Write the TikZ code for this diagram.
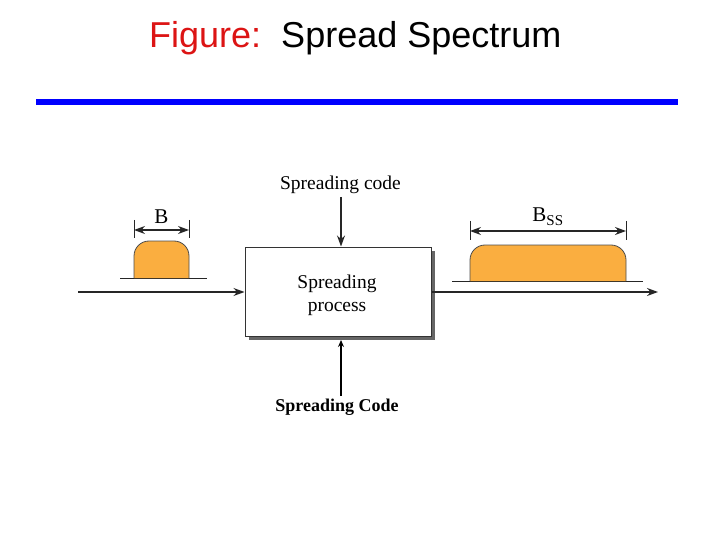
\documentclass[tikz,border=0pt]{standalone}
\usepackage{fontspec}
\setmainfont{Liberation Serif}
\newfontfamily\titlefont{Liberation Sans}
\usetikzlibrary{arrows.meta}
\definecolor{pulse}{RGB}{250,174,64}
\definecolor{titlered}{RGB}{220,20,20}
\tikzset{
  conn/.style={draw=black!85, line width=1.1pt, -{Stealth[length=11pt,width=8pt]}},
  dimarrow/.style={draw=black!85, line width=1.1pt, {Stealth[length=11pt,width=8pt]}-{Stealth[length=11pt,width=8pt]}},
  tick/.style={draw=black!85, line width=1pt},
  pulseshape/.style={fill=pulse, draw=black!70, line width=0.8pt, rounded corners=15pt},
  base/.style={draw=black!85, line width=1pt},
  lbl/.style={inner sep=0pt, font=\fontsize{19.5}{22}\selectfont}
}
\begin{document}
\begin{tikzpicture}[x=1pt,y=-1pt]
\useasboundingbox (0,0) rectangle (720,540);
% title
\node[anchor=base west, inner sep=0pt, font=\titlefont\fontsize{36}{40}\selectfont] (title) at (149,48) {\textcolor{titlered}{Figure:}\ \ Spread Spectrum};
\fill[blue] (36,99) rectangle (678,105);

% left pulse
\draw[base] (120,278) -- (207,278);
\draw[pulseshape] (134,278) -- (134,241) -- (189,241) -- (189,278);
\coordinate (bl) at (134,230);
\coordinate (br) at (189,230);
\draw[tick] (134,220) -- (134,238);
\draw[tick] (189,220) -- (189,238);
\draw[dimarrow] (bl) -- (br);
\node[lbl, anchor=base, font=\fontsize{21}{22}\selectfont] (B) at (161.5,224) {B};

% box
\fill[black!60] (249,251) rectangle (435,340);
\node[draw=black!80, fill=white, line width=1pt, minimum width=186pt, minimum height=89pt, inner sep=0pt] (box) at (338,291.5) {};
\node[align=center, inner sep=0pt, font=\fontsize{19.5}{23}\selectfont] (boxtext) at (337,295) {Spreading\\process};

% input / output arrows
\coordinate (in) at (78,292);
\draw[conn] (in) -- (box.west |- in);
\coordinate (out) at (658,292);
\draw[conn] (box.east |- out) -- (out);

% right pulse
\draw[base] (452,281) -- (643,281);
\draw[pulseshape] (470,281) -- (470,245) -- (626,245) -- (626,281);
\coordinate (sl) at (470,231);
\coordinate (sr) at (626,231);
\draw[tick] (470,221) -- (470,240);
\draw[tick] (626,221) -- (626,240);
\draw[dimarrow] (sl) -- (sr);
\node[lbl, anchor=base, font=\fontsize{21}{22}\selectfont] (Bss) at (548,222) {B\textsubscript{\fontsize{15}{15}\selectfont SS}};

% spreading code top
\node[lbl, anchor=base] (sc) at (340.5,190) {Spreading code};
\coordinate (scs) at (341,197);
\draw[conn] (scs) -- (scs |- box.north);

% spreading code bottom
\node[inner sep=0pt, anchor=base, font=\bfseries\fontsize{18}{20}\selectfont] (scb) at (337,411) {Spreading Code};
\coordinate (bs) at (341,396);
\coordinate (be) at (341,340);
\draw[draw=black, line width=1.6pt, -{Stealth[length=7pt,width=6pt]}] (bs) -- (be);
\end{tikzpicture}
\end{document}
